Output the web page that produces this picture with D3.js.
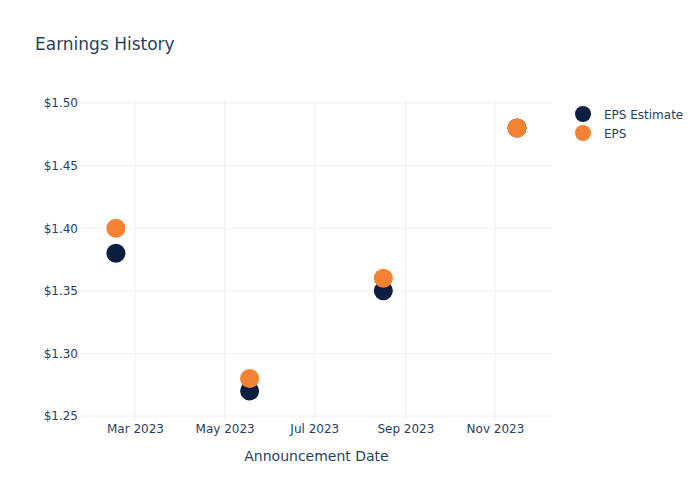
<!DOCTYPE html>
<html>
<head>
<meta charset="utf-8">
<script src="https://cdn.jsdelivr.net/npm/d3@7"></script>
<style>
  body { margin: 0; background: #fff; }
  text { font-family: "DejaVu Sans", Verdana, sans-serif; fill: #2a3f5f; }
</style>
</head>
<body>
<div id="chart"></div>
<script>
const dates = ["2023-02-16", "2023-05-18", "2023-08-17", "2023-11-16"];
const epsEstimate = [1.38, 1.27, 1.35, 1.48];
const eps = [1.40, 1.28, 1.36, 1.48];
const yTicks = [1.25, 1.30, 1.35, 1.40, 1.45, 1.50];
const xTicks = ["2023-03-01", "2023-05-01", "2023-07-01", "2023-09-01", "2023-11-01"];
const seriesNames = ["EPS Estimate", "EPS"];
const colors = ["#0b1f41", "#f58233"];

const parse = d3.timeParse("%Y-%m-%d");

const svg = d3.select("#chart")
  .append("svg")
  .attr("width", 700)
  .attr("height", 500);

const plotLeft = 80, plotRight = 553, plotTop = 100, plotBottom = 420;

const xScale = d3.scaleTime()
  .domain([parse("2023-03-01"), parse("2023-11-01")])
  .range([135, 495]);

const yScale = d3.scaleLinear()
  .domain([1.25, 1.50])
  .range([416, 103]);

// gridlines
svg.append("g")
  .selectAll("line")
  .data(xTicks)
  .join("line")
  .attr("x1", d => xScale(parse(d)))
  .attr("x2", d => xScale(parse(d)))
  .attr("y1", plotTop)
  .attr("y2", plotBottom)
  .attr("stroke", "#ebf0f8")
  .attr("stroke-width", 1);

svg.append("g")
  .selectAll("line")
  .data(yTicks)
  .join("line")
  .attr("x1", plotLeft)
  .attr("x2", plotRight)
  .attr("y1", d => yScale(d))
  .attr("y2", d => yScale(d))
  .attr("stroke", "#ebf0f8")
  .attr("stroke-width", 1);

// axes
const xAxis = svg.append("g")
  .attr("transform", `translate(0, ${plotBottom})`)
  .call(d3.axisBottom(xScale)
    .tickValues(xTicks.map(parse))
    .tickFormat(d3.timeFormat("%b %Y"))
    .tickSize(0)
    .tickPadding(4));
xAxis.select(".domain").remove();
xAxis.selectAll("text").style("font-size", "12px").attr("fill", "#2a3f5f");

const yAxis = svg.append("g")
  .attr("transform", `translate(${plotLeft}, 0)`)
  .call(d3.axisLeft(yScale)
    .tickValues(yTicks)
    .tickFormat(d => "$" + d3.format(".2f")(d))
    .tickSize(0)
    .tickPadding(2));
yAxis.select(".domain").remove();
yAxis.selectAll("text").style("font-size", "12px").attr("fill", "#2a3f5f");

// points
const series = [epsEstimate, eps];
series.forEach((vals, i) => {
  svg.append("g")
    .selectAll("circle")
    .data(vals)
    .join("circle")
    .attr("cx", (d, j) => xScale(parse(dates[j])))
    .attr("cy", d => yScale(d))
    .attr("r", 9.5)
    .attr("fill", colors[i]);
});

// title
svg.append("text")
  .text("Earnings History")
  .attr("x", 35)
  .attr("y", 50)
  .style("font-size", "17px");

svg.append("text")
  .text("Announcement Date")
  .attr("x", (plotLeft + plotRight) / 2)
  .attr("y", 461)
  .attr("text-anchor", "middle")
  .style("font-size", "14px");

// legend
const legend = svg.append("g")
  .selectAll("g")
  .data(seriesNames)
  .join("g")
  .attr("transform", (d, i) => `translate(583, ${114 + i * 19})`);

legend.append("circle")
  .attr("r", 8)
  .attr("fill", (d, i) => colors[i]);

legend.append("text")
  .text(d => d)
  .attr("x", 21)
  .attr("y", 4.5)
  .style("font-size", "12px");
</script>
</body>
</html>
